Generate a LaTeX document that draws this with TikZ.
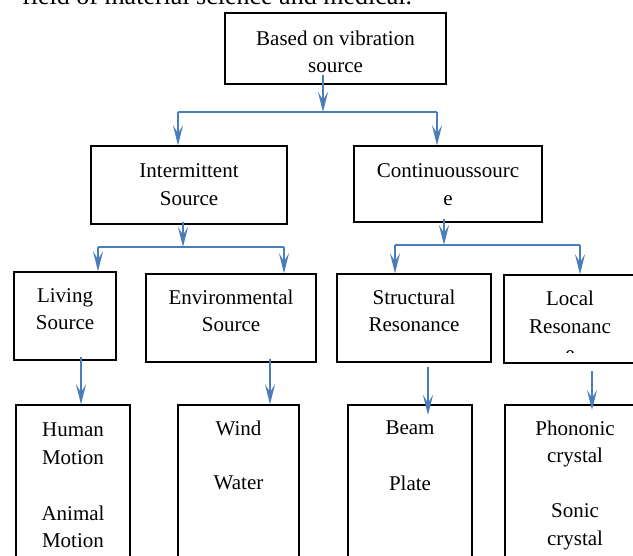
\documentclass[tikz,border=0pt]{standalone}
\usepackage{fontspec}
\setmainfont{Liberation Serif}
\usetikzlibrary{arrows.meta}
\definecolor{arrblue}{HTML}{4A7EBB}
\begin{document}
\begin{tikzpicture}[x=1pt,y=-1pt,
  box/.style={draw=black, line width=1.4pt, rectangle, inner sep=0pt},
  txt/.style={font=\fontsize{21}{27.5}\selectfont, align=center, inner sep=0pt},
  arr/.style={draw=arrblue, line width=2.4pt, -{Stealth[length=20pt,width=10pt,inset=8pt]}},
  link/.style={draw=arrblue, line width=2.4pt}]
\useasboundingbox (0,0) rectangle (633,556);
\clip (0,0) rectangle (633,556);

% header text (cut off)
\node[anchor=base west, font=\fontsize{26}{30}\selectfont, inner sep=0pt] (toptext) at (22,4.5) {field of material science and medical.};

% boxes
\node[box, minimum width=221pt, minimum height=71pt] (top) at (335.5,48.5) {};
\node[box, minimum width=196pt, minimum height=78pt] (inter) at (189,185) {};
\node[box, minimum width=188pt, minimum height=76pt] (cont) at (448,184) {};
\node[box, minimum width=102pt, minimum height=88pt] (living) at (65,316) {};
\node[box, minimum width=170pt, minimum height=88pt] (env) at (231,318) {};
\node[box, minimum width=154pt, minimum height=88pt] (struct) at (414,318) {};
\node[box, minimum width=132pt, minimum height=88pt] (local) at (570,319) {};
\node[box, minimum width=114pt, minimum height=215pt] (human) at (73,512.5) {};
\node[box, minimum width=121pt, minimum height=215pt] (wind) at (238.5,512.5) {};
\node[box, minimum width=124pt, minimum height=215pt] (beam) at (410,512.5) {};
\node[box, minimum width=140pt, minimum height=215pt] (phon) at (575,512.5) {};

% texts
\node[txt] (topt) at (335.5,52) {Based on vibration\\source};
\node[txt] (intert) at (189,184.5) {Intermittent\\Source};
\node[txt] (contt) at (448,184.5) {Continuoussourc\\e};
\node[txt] (livingt) at (65,309) {Living\\Source};
\node[txt] (envt) at (231,311) {Environmental\\Source};
\node[txt] (structt) at (414,311) {Structural\\Resonance};
\begin{scope}
\clip (504,275) rectangle (640,353);
\node[txt] (localt) at (570,326) {Local\\Resonanc\\e};
\end{scope}
\node[txt] (humant1) at (73,443.5) {Human\\Motion};
\node[txt] (humant2) at (73,527) {Animal\\Motion};
\node[txt] (windt1) at (238.5,428) {Wind};
\node[txt] (windt2) at (238.5,483) {Water};
\node[txt] (beamt1) at (410,428) {Beam};
\node[txt] (beamt2) at (410,483) {Plate};
\node[txt] (phont1) at (575,444) {Phononic\\crystal};
\node[txt] (phont2) at (575,527) {Sonic\\crystal};

% connector points
\coordinate (a1) at (323,75);
\coordinate (j1) at (323,112);
\coordinate (jl1) at (178,112);
\coordinate (jr1) at (437,112);
\coordinate (a2) at (183,222);
\coordinate (j2) at (183,247);
\coordinate (jl2) at (98,247);
\coordinate (jr2) at (284,247);
\coordinate (a3) at (444,219);
\coordinate (j3) at (444,245);
\coordinate (jl3) at (395,245);
\coordinate (jr3) at (580,245);
\coordinate (b1) at (81,357);
\coordinate (b2) at (270,359);
\coordinate (b3) at (428,367);
\coordinate (e3) at (428,415);
\coordinate (b4) at (592,371);
\coordinate (e4) at (592,410);

% connectors
\draw[arr] (a1) -- (j1);
\draw[link] (jl1) -- (jr1);
\draw[arr] (jl1) -- (jl1 |- inter.north);
\draw[arr] (jr1) -- (jr1 |- cont.north);

\draw[arr] (a2) -- (j2);
\draw[link] (jl2) -- (jr2);
\draw[arr] (jl2) -- (jl2 |- living.north);
\draw[arr] (jr2) -- (jr2 |- env.north);

\draw[arr] (a3) -- (j3);
\draw[link] (jl3) -- (jr3);
\draw[arr] (jl3) -- (jl3 |- struct.north);
\draw[arr] (jr3) -- (jr3 |- local.north);

\draw[arr] (b1) -- (b1 |- human.north);
\draw[arr] (b2) -- (b2 |- wind.north);
\draw[arr] (b3) -- (e3);
\draw[arr] (b4) -- (e4);
\end{tikzpicture}
\end{document}
